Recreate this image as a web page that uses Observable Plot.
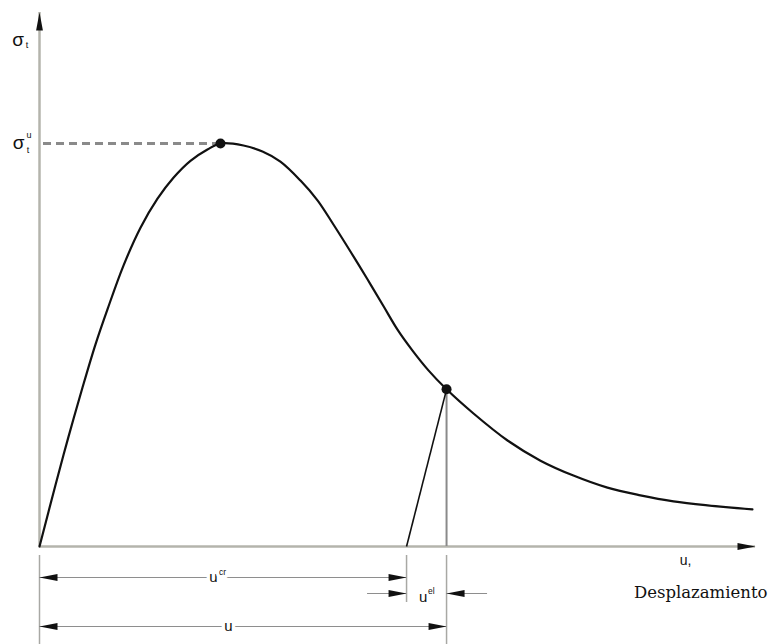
<!DOCTYPE html>
<html>
<head>
<meta charset="utf-8">
<script src="https://cdn.jsdelivr.net/npm/d3@7"></script>
<script src="https://cdn.jsdelivr.net/npm/@observablehq/plot@0.6"></script>
<style>
  body { margin: 0; background: #fff; }
</style>
</head>
<body>
<div id="chart"></div>
<script>
// Tension softening curve: normalised stress σ/σt^u against normalised displacement u/u(peak)
const curveU = [0, 0.088, 0.160, 0.238, 0.309, 0.376, 0.464, 0.558, 0.652, 0.740, 0.834, 0.928, 1.0,
  1.127, 1.232, 1.331, 1.442, 1.536, 1.624, 1.718, 1.812, 1.901, 1.978, 2.061, 2.149, 2.249,
  2.398, 2.586, 2.768, 2.950, 3.138, 3.320, 3.503, 3.691, 3.939];
const curveSigma = [0, 0.152, 0.272, 0.395, 0.501, 0.589, 0.697, 0.791, 0.863, 0.915, 0.957, 0.985, 1.0,
  0.995, 0.980, 0.955, 0.908, 0.859, 0.799, 0.732, 0.663, 0.596, 0.538, 0.486, 0.437, 0.390,
  0.330, 0.263, 0.213, 0.176, 0.146, 0.127, 0.112, 0.102, 0.092];

// Marked states: tensile strength and the unloading point
const peakU = [1.0];
const peakSigma = [1.0];
const unloadU = [2.249];
const unloadSigma = [0.390];

// Displacement split: u = u^cr + u^el
const uCrack = 2.028;
const uTotal = 2.249;

// Extent of the two axes (arrow tips)
const axisEndU = 3.956;
const axisEndSigma = 1.325;

// Text
const yLabel = ["σ", "t"];
const strengthLabel = ["σ", "u", "t"];
const crackLabel = ["u", "cr"];
const elasticLabel = ["u", "el"];
const totalLabel = ["u"];
const xLabel = ["u,", "Desplazamiento"];

const curve = curveU.map((u, i) => ({u, sigma: curveSigma[i]}));
const peak = peakU.map((u, i) => ({u, sigma: peakSigma[i]}));
const unload = unloadU.map((u, i) => ({u, sigma: unloadSigma[i]}));

// Filled, elongated arrowhead with its tip at the origin, pointing right
const arrowHead = {
  draw(context, size) {
    const s = Math.sqrt(size / Math.PI);
    context.moveTo(0, 0);
    context.lineTo(-s, -s * 0.19);
    context.lineTo(-s, s * 0.19);
    context.closePath();
  }
};

const ink = "#111";
const axisGrey = "#b4b4ac";
const dimGrey = "#8e8e8e";
const extGrey = "#a8a8a4";
const sans = "Liberation Sans, Arial, sans-serif";
const serif = "DejaVu Serif, serif";

// One dimension line: a thin rule between two displacements with arrowheads at both ends
function dimensionRow(from, to, offset) {
  return [
    Plot.ruleY([{y: 0, x1: from, x2: to}], {y: "y", x1: "x1", x2: "x2", dy: offset, stroke: dimGrey, strokeWidth: 1.2}),
    Plot.dot([{u: from, y: 0, a: 180}, {u: to, y: 0, a: 0}], {x: "u", y: "y", dy: offset, rotate: "a", symbol: arrowHead, r: 18, fill: ink, stroke: "none"})
  ];
}

const centred = {textAnchor: "middle", lineAnchor: "middle"};
const halo = {stroke: "white", strokeWidth: 7, paintOrder: "stroke", strokeLinejoin: "round", fill: ink};

const chart = Plot.plot({
  width: 768,
  height: 644,
  marginLeft: 39,
  marginRight: 13,
  marginTop: 12,
  marginBottom: 98,
  style: {background: "white", fontFamily: sans, overflow: "visible"},
  x: {domain: [0, axisEndU], axis: null},
  y: {domain: [0, axisEndSigma], axis: null},
  marks: [
    // axes
    Plot.ruleX([{x: 0, y1: 0, y2: axisEndSigma}], {x: "x", y1: "y1", y2: "y2", stroke: axisGrey, strokeWidth: 2.5}),
    Plot.ruleY([{y: 0, x1: 0, x2: axisEndU}], {y: "y", x1: "x1", x2: "x2", stroke: axisGrey, strokeWidth: 2.5}),
    Plot.dot([{u: 0, sigma: axisEndSigma, a: -90}, {u: axisEndU, sigma: 0, a: 0}],
      {x: "u", y: "sigma", rotate: "a", symbol: arrowHead, r: 18, fill: ink, stroke: "none"}),

    // tensile strength level
    Plot.ruleY(peak, {y: "sigma", x1: 0, x2: "u", insetLeft: 4, stroke: "#8a8a8a", strokeWidth: 3, strokeDasharray: "8,5"}),

    // extension lines below the displacement axis
    Plot.ruleX([{x: 0, y: 0}, {x: uTotal, y: 0}], {x: "x", y1: "y", y2: "y", dy: 9, insetBottom: -89, stroke: extGrey, strokeWidth: 1.5}),
    Plot.ruleX([{x: uCrack, y: 0}], {x: "x", y1: "y", y2: "y", dy: 9, insetBottom: -47, stroke: extGrey, strokeWidth: 1.5}),

    // total displacement marker and elastic unloading branch
    Plot.ruleX(unload, {x: "u", y1: 0, y2: "sigma", stroke: "#8a8a8a", strokeWidth: 2}),
    Plot.link(unload, {x1: uCrack, y1: 0, x2: "u", y2: "sigma", stroke: ink, strokeWidth: 1.6}),

    // softening curve
    Plot.line(curve, {x: "u", y: "sigma", curve: "catmull-rom", stroke: ink, strokeWidth: 2.2}),
    Plot.dot(peak, {x: "u", y: "sigma", r: 5, fill: ink, stroke: "none"}),
    Plot.dot(unload, {x: "u", y: "sigma", r: 5, fill: ink, stroke: "none"}),

    // dimension lines: u^cr, u^el and u
    ...dimensionRow(0, uCrack, 31),
    Plot.ruleY([{y: 0, x: uCrack}], {y: "y", x1: "x", x2: "x", insetLeft: -39, dy: 47, stroke: dimGrey, strokeWidth: 1.2}),
    Plot.ruleY([{y: 0, x: uTotal}], {y: "y", x1: "x", x2: "x", insetRight: -41, dy: 47, stroke: dimGrey, strokeWidth: 1.2}),
    Plot.dot([{u: uCrack, y: 0, a: 0}, {u: uTotal, y: 0, a: 180}], {x: "u", y: "y", dy: 47, rotate: "a", symbol: arrowHead, r: 18, fill: ink, stroke: "none"}),
    ...dimensionRow(0, uTotal, 80),

    // stress axis labels
    Plot.text([yLabel[0]], {frameAnchor: "top-left", text: d => d, dx: -21.5, dy: 27, fontSize: 19, fill: ink, ...centred}),
    Plot.text([yLabel[1]], {frameAnchor: "top-left", text: d => d, dx: -12.5, dy: 33, fontSize: 9, fill: ink, ...centred}),
    Plot.text(peak, {x: 0, y: "sigma", text: () => strengthLabel[0], dx: -21, dy: -1, fontSize: 19, fill: ink, ...centred}),
    Plot.text(peak, {x: 0, y: "sigma", text: () => strengthLabel[1], dx: -10.5, dy: -8, fontSize: 9, fill: ink, ...centred}),
    Plot.text(peak, {x: 0, y: "sigma", text: () => strengthLabel[2], dx: -11.5, dy: 7, fontSize: 9, fill: ink, ...centred}),

    // dimension labels
    Plot.text([uCrack / 2], {x: d => d, y: 0, text: () => crackLabel[0], dx: -9.5, dy: 31, fontSize: 15, ...centred, ...halo}),
    Plot.text([uCrack / 2], {x: d => d, y: 0, text: () => crackLabel[1], dx: -4, dy: 26, fontSize: 8.5, ...centred, textAnchor: "start", ...halo}),
    Plot.text([(uCrack + uTotal) / 2], {x: d => d, y: 0, text: () => elasticLabel[0], dx: -3.5, dy: 51, fontSize: 15, fill: ink, ...centred}),
    Plot.text([(uCrack + uTotal) / 2], {x: d => d, y: 0, text: () => elasticLabel[1], dx: 1.5, dy: 45, fontSize: 8.5, fill: ink, ...centred, textAnchor: "start"}),
    Plot.text([uTotal / 2], {x: d => d, y: 0, text: () => totalLabel[0], dx: -14.5, dy: 80, fontSize: 15, ...centred, ...halo}),

    // displacement axis labels
    Plot.text([xLabel[0]], {frameAnchor: "bottom-right", text: d => d, dx: -70, dy: 14, fontSize: 14, fill: ink, ...centred}),
    Plot.text([xLabel[1]], {frameAnchor: "bottom-right", text: d => d, dx: 12, dy: 46, fontSize: 16.5, fontFamily: serif, fill: ink, ...centred, textAnchor: "end"})
  ]
});

document.getElementById("chart").append(chart);
</script>
</body>
</html>
